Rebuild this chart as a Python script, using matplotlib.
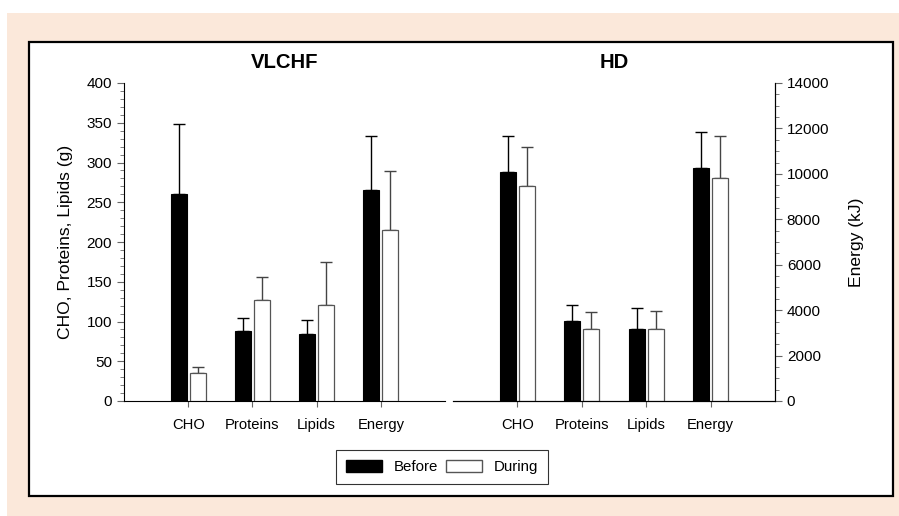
import matplotlib.pyplot as plt
import matplotlib.patches as mpatches
import numpy as np
from matplotlib.ticker import MultipleLocator

# categories and values (g for CHO/Proteins/Lipids, kJ for Energy)
categories = ["CHO", "Proteins", "Lipids", "Energy"]

vlchf_before = [261, 88, 84, 9290]
vlchf_before_sd = [88, 17, 18, 2370]
vlchf_during = [35, 127, 121, 7530]
vlchf_during_sd = [8, 29, 54, 2580]

hd_before = [288, 101, 91, 10250]
hd_before_sd = [45, 20, 26, 1610]
hd_during = [270, 91, 91, 9800]
hd_during_sd = [50, 21, 22, 1850]

G_MAX = 400
KJ_MAX = 14000
scale = G_MAX / KJ_MAX  # kJ -> g axis units

plt.rcParams['font.family'] = ['Liberation Sans', 'DejaVu Sans']

fig = plt.figure(figsize=(8.99, 5.16), dpi=100)
fig.patch.set_facecolor("white")

# peach frame and white box
fig.patches.append(mpatches.Rectangle((7 / 899, 0), 1, 1 - 13 / 516, transform=fig.transFigure,
                                      facecolor="#fbe8da", edgecolor="none", zorder=-10))
fig.patches.append(mpatches.Rectangle((29 / 899, 1 - 496 / 516), (893 - 29) / 899, (496 - 42) / 516,
                                      transform=fig.transFigure, facecolor="white",
                                      edgecolor="black", linewidth=1.6, zorder=-9))

ax1 = fig.add_axes([124 / 899, 1 - 401 / 516, (445 - 124) / 899, (401 - 83) / 516])
ax2 = fig.add_axes([453 / 899, 1 - 401 / 516, (775 - 453) / 899, (401 - 83) / 516])

x = np.arange(len(categories))
w = 0.25
off = 0.148


def to_axis(vals):
    return [v * scale if c == "Energy" else v for v, c in zip(vals, categories)]


def draw(ax, before, bsd, during, dsd, title):
    ax.set_facecolor("none")
    b = to_axis(before)
    bs = to_axis(bsd)
    d = to_axis(during)
    ds = to_axis(dsd)
    ax.bar(x - off, b, w, color="black", edgecolor="black", linewidth=0.8, zorder=3)
    ax.bar(x + off, d, w, color="white", edgecolor="#555555", linewidth=0.9, zorder=3)
    ax.errorbar(x - off, b, yerr=[np.zeros(4), bs], fmt="none", ecolor="black",
                elinewidth=1.0, capsize=4, capthick=1.0, zorder=2)
    ax.errorbar(x + off, d, yerr=[np.zeros(4), ds], fmt="none", ecolor="#444444",
                elinewidth=1.0, capsize=4, capthick=1.0, zorder=2)
    ax.set_xlim(-1, 4)
    ax.set_ylim(0, G_MAX)
    ax.set_xticks(x)
    ax.set_xticklabels(categories, fontsize=10.6)
    ax.tick_params(axis="x", length=4, color="#666666", pad=8)
    ax.spines["top"].set_visible(False)
    ax.set_title(title, fontsize=14.6, fontweight="bold", pad=6, y=1.02)


draw(ax1, vlchf_before, vlchf_before_sd, vlchf_during, vlchf_during_sd, "VLCHF")
draw(ax2, hd_before, hd_before_sd, hd_during, hd_during_sd, "HD")

ax1.spines["right"].set_visible(False)
ax1.yaxis.set_major_locator(MultipleLocator(50))
ax1.yaxis.set_minor_locator(MultipleLocator(10))
ax1.tick_params(axis="y", which="major", length=5, labelsize=11, color="#666666")
ax1.tick_params(axis="y", which="minor", length=3, color="#666666")
ax1.set_ylabel("CHO, Proteins, Lipids (g)", fontsize=12.6, labelpad=10)

ax2.spines["left"].set_visible(False)
ax2.set_yticks([])
ax2r = ax2.twinx()
ax2r.set_ylim(0, KJ_MAX)
ax2r.spines["top"].set_visible(False)
ax2r.spines["left"].set_visible(False)
ax2r.yaxis.set_major_locator(MultipleLocator(2000))
ax2r.yaxis.set_minor_locator(MultipleLocator(500))
ax2r.tick_params(axis="y", which="major", length=5, labelsize=11, color="#666666")
ax2r.tick_params(axis="y", which="minor", length=3, color="#666666")
ax2r.set_ylabel("Energy (kJ)", fontsize=12.6, labelpad=14)

handles = [mpatches.Patch(facecolor="black", edgecolor="black", label="Before"),
           mpatches.Patch(facecolor="white", edgecolor="#555555", label="During")]
leg = fig.legend(handles=handles, loc="center", bbox_to_anchor=(442 / 899, 1 - 467 / 516),
                 ncol=2, fontsize=10.8, frameon=True, fancybox=False, edgecolor="black",
                 handlelength=2.4, handleheight=0.8, columnspacing=0.5, borderpad=0.65)
leg.get_frame().set_linewidth(0.8)

fig.savefig("out.png", dpi=100)
